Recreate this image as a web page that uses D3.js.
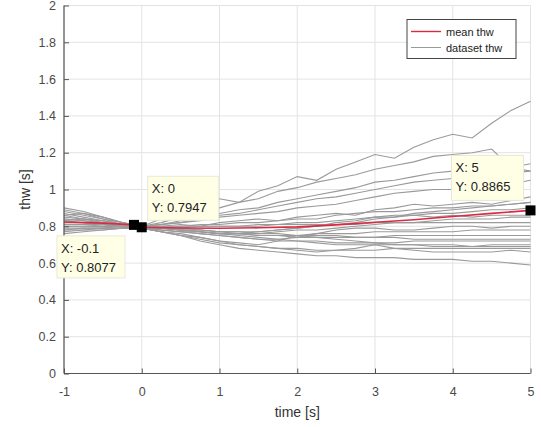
<!DOCTYPE html>
<html>
<head>
<meta charset="utf-8">
<script src="https://cdn.jsdelivr.net/npm/d3@7"></script>
<style>
  body { margin: 0; background: #fff; }
  text { font-family: "Liberation Sans", Arial, sans-serif; }
</style>
</head>
<body>
<div id="graph"></div>
<script>
// time base of the dataset runs [s]
var time = [-1, -0.75, -0.5, -0.25, 0, 0.25, 0.5, 0.75, 1, 1.25, 1.5, 1.75, 2,
    2.25, 2.5, 2.75, 3, 3.25, 3.5, 3.75, 4, 4.25, 4.5, 4.75, 5];

// dataset thw, one array per run
var run01 = [0.86,0.87,0.85,0.82,0.80,0.84,0.88,0.91,0.95,0.93,0.99,1.02,1.07,1.05,1.11,1.15,1.19,1.17,1.23,1.27,1.30,1.28,1.36,1.43,1.48];
var run02 = [0.84,0.83,0.82,0.81,0.80,0.82,0.85,0.87,0.90,0.93,0.95,0.99,1.01,1.04,1.06,1.08,1.11,1.13,1.15,1.18,1.19,1.20,1.22,1.12,1.10];
var run03 = [0.88,0.86,0.84,0.82,0.80,0.81,0.83,0.85,0.87,0.89,0.90,0.93,0.95,0.97,0.99,1.01,1.04,1.05,1.07,1.09,1.10,1.10,1.11,1.12,1.14];
var run04 = [0.80,0.80,0.80,0.80,0.80,0.81,0.82,0.84,0.86,0.87,0.89,0.91,0.93,0.95,0.96,0.98,1.00,1.02,1.04,1.05,1.06,1.07,1.08,1.09,1.10];
var run05 = [0.83,0.84,0.83,0.81,0.80,0.81,0.82,0.83,0.85,0.86,0.87,0.88,0.90,0.91,0.92,0.94,0.96,0.98,0.99,1.00,1.00,1.01,1.02,1.03,1.05];
var run06 = [0.78,0.79,0.79,0.80,0.80,0.80,0.81,0.80,0.82,0.83,0.84,0.83,0.85,0.86,0.87,0.86,0.89,0.90,0.92,0.91,0.92,0.93,0.92,0.94,0.96];
var run07 = [0.90,0.88,0.85,0.82,0.80,0.80,0.80,0.81,0.81,0.82,0.82,0.83,0.84,0.84,0.86,0.87,0.88,0.88,0.89,0.90,0.90,0.91,0.91,0.92,0.93];
var run08 = [0.81,0.81,0.81,0.80,0.79,0.79,0.80,0.80,0.80,0.80,0.81,0.81,0.82,0.82,0.83,0.84,0.85,0.86,0.86,0.87,0.87,0.88,0.89,0.89,0.90];
var run09 = [0.85,0.84,0.83,0.81,0.80,0.79,0.78,0.78,0.77,0.77,0.77,0.78,0.79,0.80,0.82,0.83,0.85,0.85,0.86,0.85,0.86,0.85,0.86,0.86,0.86];
var run10 = [0.79,0.79,0.79,0.79,0.79,0.79,0.79,0.80,0.80,0.80,0.80,0.81,0.81,0.81,0.81,0.81,0.82,0.82,0.82,0.82,0.82,0.82,0.82,0.82,0.82];
var run11 = [0.76,0.77,0.78,0.79,0.80,0.79,0.78,0.77,0.76,0.75,0.74,0.73,0.74,0.76,0.78,0.79,0.79,0.78,0.78,0.79,0.80,0.80,0.79,0.80,0.80];
var run12 = [0.84,0.83,0.82,0.81,0.80,0.79,0.78,0.77,0.76,0.76,0.75,0.75,0.75,0.76,0.76,0.76,0.77,0.77,0.77,0.77,0.77,0.78,0.78,0.78,0.78];
var run13 = [0.82,0.82,0.81,0.80,0.80,0.79,0.78,0.77,0.76,0.76,0.75,0.75,0.74,0.74,0.74,0.74,0.74,0.75,0.75,0.75,0.75,0.75,0.75,0.75,0.75];
var run14 = [0.87,0.85,0.83,0.81,0.80,0.78,0.77,0.76,0.75,0.74,0.73,0.73,0.72,0.72,0.71,0.71,0.71,0.71,0.72,0.72,0.72,0.72,0.72,0.72,0.72];
var run15 = [0.80,0.80,0.80,0.80,0.79,0.78,0.77,0.76,0.75,0.74,0.73,0.72,0.72,0.71,0.70,0.70,0.70,0.70,0.70,0.70,0.70,0.69,0.70,0.70,0.70];
var run16 = [0.78,0.78,0.79,0.79,0.79,0.77,0.75,0.74,0.72,0.71,0.70,0.72,0.75,0.74,0.73,0.72,0.71,0.70,0.70,0.69,0.69,0.69,0.69,0.69,0.69];
var run17 = [0.86,0.84,0.82,0.80,0.79,0.77,0.75,0.73,0.71,0.70,0.69,0.68,0.68,0.67,0.67,0.67,0.67,0.68,0.68,0.68,0.68,0.68,0.68,0.68,0.68];
var run18 = [0.81,0.81,0.80,0.80,0.79,0.77,0.76,0.74,0.72,0.70,0.69,0.68,0.67,0.66,0.67,0.68,0.70,0.68,0.67,0.66,0.66,0.66,0.66,0.67,0.66];
var run19 = [0.83,0.82,0.81,0.80,0.79,0.77,0.75,0.72,0.70,0.68,0.67,0.66,0.65,0.64,0.64,0.63,0.63,0.63,0.62,0.62,0.62,0.61,0.61,0.60,0.59];
var run20 = [0.89,0.87,0.84,0.81,0.80,0.79,0.78,0.78,0.77,0.77,0.76,0.76,0.75,0.75,0.75,0.74,0.74,0.74,0.73,0.73,0.73,0.73,0.73,0.73,0.73];
var run21 = [0.77,0.78,0.78,0.79,0.80,0.80,0.79,0.78,0.77,0.76,0.76,0.77,0.78,0.78,0.79,0.80,0.81,0.82,0.82,0.83,0.84,0.84,0.84,0.85,0.85];
var run22 = [0.82,0.82,0.81,0.80,0.79,0.78,0.77,0.77,0.76,0.76,0.77,0.78,0.79,0.80,0.81,0.82,0.84,0.85,0.87,0.88,0.89,0.90,0.91,0.92,0.93];

var runs = [run01, run02, run03, run04, run05, run06, run07, run08, run09, run10, run11,
    run12, run13, run14, run15, run16, run17, run18, run19, run20, run21, run22];

// mean thw
var meanTime = [-1, -0.5, -0.1, 0, 0.5, 1, 1.5, 2, 2.5, 3, 3.5, 4, 4.5, 5];
var meanThw = [0.823, 0.817, 0.8077, 0.7947, 0.791, 0.789, 0.792, 0.797, 0.808, 0.822, 0.836, 0.853, 0.870, 0.8865];

// data tips
var tipX = [-0.1, 0, 5];
var tipY = [0.8077, 0.7947, 0.8865];
var tipLabelX = ['-0.1', '0', '5'];
var tipLabelY = ['0.8077', '0.7947', '0.8865'];

var xTicks = [-1, 0, 1, 2, 3, 4, 5];
var yTicks = [0, 0.2, 0.4, 0.6, 0.8, 1, 1.2, 1.4, 1.6, 1.8, 2];

var gray = '#9a9a9a';
var red = '#dc2a42';
var axisCol = '#555';

var width = 541, height = 427;
var plotL = 64, plotR = 530.5, plotT = 5.5, plotB = 373.5;

var svg = d3.select('#graph')
    .append('svg')
        .attr('width', width)
        .attr('height', height);

var x = d3.scaleLinear().domain([-1, 5]).range([plotL, plotR]);
var y = d3.scaleLinear().domain([0, 2]).range([plotB, plotT]);

// grid
svg.append('g')
    .selectAll('line')
    .data(xTicks).enter().append('line')
    .attr('x1', d => x(d)).attr('x2', d => x(d))
    .attr('y1', plotT).attr('y2', plotB)
    .attr('stroke', '#e3e3e3');
svg.append('g')
    .selectAll('line')
    .data(yTicks).enter().append('line')
    .attr('x1', plotL).attr('x2', plotR)
    .attr('y1', d => y(d)).attr('y2', d => y(d))
    .attr('stroke', '#e3e3e3');

var line = d3.line()
    .x(d => x(d[0]))
    .y(d => y(d[1]));

svg.append('g')
    .selectAll('path')
    .data(runs).enter().append('path')
    .attr('d', r => line(r.map((v, i) => [time[i], v])))
    .attr('fill', 'none')
    .attr('stroke', gray)
    .attr('stroke-width', 1.1);

svg.append('path')
    .attr('d', line(meanThw.map((v, i) => [meanTime[i], v])))
    .attr('fill', 'none')
    .attr('stroke', red)
    .attr('stroke-width', 1.6);

// axes (ticks point inward like matlab)
var xAxis = svg.append('g')
    .attr('transform', 'translate(0,' + plotB + ')')
    .call(d3.axisBottom(x).tickValues(xTicks).tickSize(-5).tickPadding(14).tickFormat(d => d));
var yAxis = svg.append('g')
    .attr('transform', 'translate(' + plotL + ',0)')
    .call(d3.axisLeft(y).tickValues(yTicks).tickSize(-5).tickPadding(8).tickFormat(d => d));
[xAxis, yAxis].forEach(function(a) {
    a.select('.domain').attr('stroke', axisCol).attr('stroke-width', 1.2);
    a.selectAll('.tick line').attr('stroke', axisCol);
    a.selectAll('.tick text').attr('fill', '#4a4a4a').style('font-size', '12.5px')
        .style('font-family', '"Liberation Sans", Arial, sans-serif');
});
xAxis.select('.domain').attr('d', 'M' + plotL + ',0H' + plotR);
yAxis.select('.domain').attr('d', 'M0,' + plotB + 'V' + plotT);

svg.append('text')
    .attr('x', (plotL + plotR) / 2)
    .attr('y', 417)
    .attr('text-anchor', 'middle')
    .attr('fill', '#333')
    .style('font-size', '14px')
    .text('time [s]');
svg.append('text')
    .attr('transform', 'translate(30,' + (plotT + plotB) / 2 + ') rotate(-90)')
    .attr('text-anchor', 'middle')
    .attr('fill', '#333')
    .style('font-size', '14px')
    .text('thw [s]');

// DATA TIPS ---------------------------------------------------------------
var tipBox = [
    { dx: -77, dy: 11, w: 68, h: 42 },
    { dx: 6, dy: -51, w: 71, h: 44 },
    { dx: -79, dy: -55, w: 72, h: 45 }
];
tipX.forEach(function(t, i) {
    var px = x(t), py = y(tipY[i]), b = tipBox[i];
    var g = svg.append('g');
    g.append('rect')
        .attr('x', px + b.dx).attr('y', py + b.dy)
        .attr('width', b.w).attr('height', b.h)
        .attr('fill', '#ffffe6')
        .attr('stroke', '#e8e8d8');
    g.append('text')
        .attr('x', px + b.dx + 4).attr('y', py + b.dy + 17)
        .attr('fill', '#222').style('font-size', '13px')
        .text('X: ' + tipLabelX[i]);
    g.append('text')
        .attr('x', px + b.dx + 4).attr('y', py + b.dy + 36)
        .attr('fill', '#222').style('font-size', '13px')
        .text('Y: ' + tipLabelY[i]);
});
svg.append('g')
    .selectAll('rect')
    .data(tipX).enter().append('rect')
    .attr('x', (d) => x(d) - 5)
    .attr('y', (d, i) => y(tipY[i]) - 5)
    .attr('width', 10).attr('height', 10)
    .attr('fill', '#000');

// LEGEND ------------------------------------------------------------------
var legend = svg.append('g').attr('transform', 'translate(407,19.5)');
legend.append('rect')
    .attr('width', 109).attr('height', 39)
    .attr('fill', '#fff').attr('stroke', '#444');
var entries = [['mean thw', red], ['dataset thw', gray]];
entries.forEach(function(e, i) {
    legend.append('line')
        .attr('x1', 4).attr('x2', 34)
        .attr('y1', 12 + i * 16).attr('y2', 12 + i * 16)
        .attr('stroke', e[1]).attr('stroke-width', i == 0 ? 1.4 : 1);
    legend.append('text')
        .attr('x', 39).attr('y', 16 + i * 16)
        .attr('fill', '#222')
        .style('font-size', '11px')
        .text(e[0]);
});
</script>
</body>
</html>
